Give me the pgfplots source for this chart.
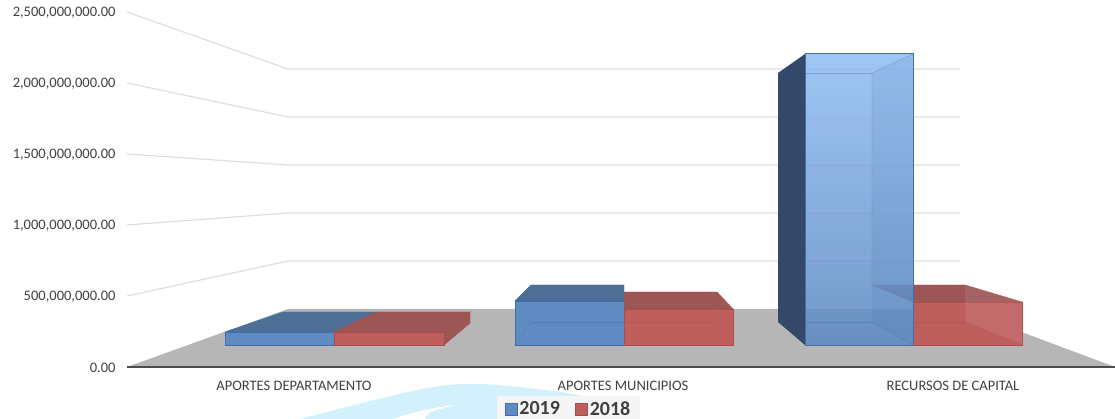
\documentclass[border=0pt]{standalone}
\usepackage{pgfplots}
\pgfplotsset{compat=1.18}
\usepackage{fontspec}
\setmainfont{Carlito}
\definecolor{fblue}{HTML}{5F8AC2}
\definecolor{lblue}{HTML}{93BEF3}
\definecolor{eblue}{HTML}{3F6FA8}
\definecolor{tblue}{HTML}{4D6F96}
\definecolor{dblue}{HTML}{34496A}
\definecolor{fred}{HTML}{BE5F5E}
\definecolor{ered}{HTML}{B04A48}
\definecolor{tred}{HTML}{9C5655}
\definecolor{gridc}{HTML}{DEDEDE}
\definecolor{floorc}{HTML}{B6B6B6}
\definecolor{txt}{HTML}{404040}
\definecolor{wm}{HTML}{D3F1FC}
\begin{document}
\begin{tikzpicture}
\useasboundingbox (-127pt,-52pt) rectangle (988pt,367pt);
\begin{axis}[
  at={(0pt,0pt)}, anchor=south west,
  scale only axis, width=988pt, height=355pt,
  xmin=127, xmax=1115, ymin=0, ymax=2500,
  clip=false,
  axis x line=bottom, axis y line=left,
  axis line style={draw=none},
  major tick length=0pt,
  ytick={0,500,1000,1500,2000,2500},
  yticklabels={0.00,{500,000,000.00},{1,000,000,000.00},{1,500,000,000.00},{2,000,000,000.00},{2,500,000,000.00}},
  xtick={294,623,953},
  xticklabels={APORTES DEPARTAMENTO,APORTES MUNICIPIOS,RECURSOS DE CAPITAL},
  tick label style={font=\fontsize{14.5}{16}\selectfont, text=txt},
  yticklabel style={xshift=-8pt, yshift=-1pt},
  xticklabel style={yshift=-11pt},
  legend style={at={(axis cs:568.5,-296)}, anchor=center, draw=none, fill=black!4, font=\fontsize{20}{22}\selectfont\bfseries, text=txt, legend columns=2, inner xsep=8pt, inner ysep=3pt, /tikz/every even column/.style={column sep=13pt}},
  legend image code/.code={\draw[#1] (0pt,-6pt) rectangle (12pt,6pt);},
]
% watermark
\addplot[draw=none, fill=wm, forget plot, smooth] coordinates {(300,-366) (370,-240) (433,-141) (483,-120) (567,-183) (610,-270) (620,-366)};
\addplot[draw=none, fill=white, forget plot, smooth] coordinates {(393,-366) (420,-310) (453,-268) (430,-320) (425,-366)};
% floor
\addplot[draw=none, fill=floorc, forget plot] coordinates {(127,0) (288,408.5) (960,408.5) (1115,0)} -- cycle;
% back wall grid
\addplot[gridc, line width=1.2pt, forget plot] coordinates {(127,2500) (288,2098.6) (960,2098.6)};
\addplot[gridc, line width=1.2pt, forget plot] coordinates {(127,2000) (288,1760.6) (960,1760.6)};
\addplot[gridc, line width=1.2pt, forget plot] coordinates {(127,1500) (288,1422.5) (960,1422.5)};
\addplot[gridc, line width=1.2pt, forget plot] coordinates {(127,1000) (288,1084.5) (960,1084.5)};
\addplot[gridc, line width=1.2pt, forget plot] coordinates {(127,500) (288,746.5) (960,746.5)};
% zero axis
\addplot[black!70, line width=2pt, forget plot] coordinates {(127,0) (1115,0)};
% --- APORTES DEPARTAMENTO 2019
\addplot[draw=eblue, fill=tblue, forget plot] coordinates {(225,246.5) (283,387.3) (376,387.3) (334,246.5)} -- cycle;
\addplot[draw=eblue, fill=fblue, forget plot] coordinates {(225,154.9) (334,154.9) (334,246.5) (225,246.5)} -- cycle;
% --- APORTES DEPARTAMENTO 2018
\addplot[draw=ered, fill=tred, forget plot] coordinates {(334,246.5) (376,387.3) (470,387.3) (444,246.5)} -- cycle;
\addplot[draw=ered, fill=tred, forget plot] coordinates {(444,154.9) (470,309.9) (470,387.3) (444,246.5)} -- cycle;
\addplot[draw=ered, fill=fred, forget plot] coordinates {(334,154.9) (444,154.9) (444,246.5) (334,246.5)} -- cycle;
% --- APORTES MUNICIPIOS 2019
\addplot[draw=eblue, fill=tblue, forget plot] coordinates {(515,464.8) (531,577.5) (624,577.5) (624,464.8)} -- cycle;
\addplot[draw=eblue, fill=fblue, forget plot] coordinates {(515,154.9) (624,154.9) (624,464.8) (515,464.8)} -- cycle;
\addplot[eblue, opacity=.4, forget plot] coordinates {(515,154.9) (531,316.9) (531,577.5)};
\addplot[eblue, opacity=.4, forget plot] coordinates {(531,316.9) (624,316.9)};
% --- APORTES MUNICIPIOS 2018
\addplot[draw=ered, fill=tred, forget plot] coordinates {(624,408.5) (624,528.2) (717,528.2) (733,408.5)} -- cycle;
\addplot[draw=ered, fill=fred, forget plot] coordinates {(624,154.9) (733,154.9) (733,408.5) (624,408.5)} -- cycle;
\addplot[ered, opacity=.4, forget plot] coordinates {(733,154.9) (717,316.9) (717,528.2)};
\addplot[ered, opacity=.4, forget plot] coordinates {(624,316.9) (717,316.9)};
% --- RECURSOS DE CAPITAL 2018
\addplot[draw=ered, fill=tred, forget plot] coordinates {(913,457.7) (872,577.5) (965,577.5) (1022,457.7)} -- cycle;
\addplot[draw=ered, fill=fred, forget plot] coordinates {(913,154.9) (1022,154.9) (1022,457.7) (913,457.7)} -- cycle;
\addplot[draw=none, fill=white, fill opacity=.08, forget plot] coordinates {(965,316.9) (1022,154.9) (1022,457.7) (965,577.5)} -- cycle;
\addplot[ered, opacity=.4, forget plot] coordinates {(1022,154.9) (965,316.9) (965,577.5)};
\addplot[ered, opacity=.4, forget plot] coordinates {(913,316.9) (965,316.9)};
% --- RECURSOS DE CAPITAL 2019
\addplot[draw=none, fill=dblue, forget plot] coordinates {(778,316.9) (805,154.9) (805,2204.2) (778,2070.4)} -- cycle;
\addplot[draw=eblue, line width=1pt, top color=lblue, bottom color=fblue, fill opacity=.88, forget plot] coordinates {(805,154.9) (913,154.9) (913,2204.2) (805,2204.2)} -- cycle;
\addplot[draw=none, fill=eblue, fill opacity=.12, forget plot] coordinates {(872,316.9) (913,154.9) (913,2204.2) (872,2070.4)} -- cycle;
\addplot[eblue, opacity=.4, forget plot] coordinates {(913,154.9) (872,316.9) (872,2070.4) (913,2204.2)};
\addplot[eblue, opacity=.4, forget plot] coordinates {(805,2070.4) (872,2070.4)};
\addplot[eblue, opacity=.4, forget plot] coordinates {(805,316.9) (872,316.9)};
\addlegendimage{draw=eblue, fill=fblue, line width=.8pt}
\addlegendentry{2019}
\addlegendimage{draw=ered, fill=fred, line width=.8pt}
\addlegendentry{2018}
\end{axis}
\end{tikzpicture}
\end{document}
